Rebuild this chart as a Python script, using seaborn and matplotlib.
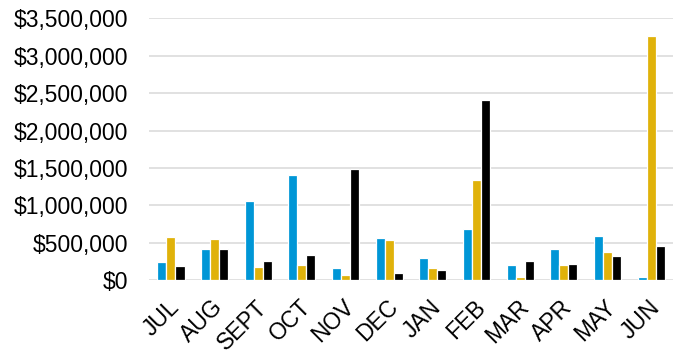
import matplotlib
matplotlib.use("Agg")
import matplotlib.pyplot as plt
import matplotlib.transforms as mtransforms
from matplotlib.ticker import FuncFormatter, MultipleLocator
import pandas as pd
import seaborn as sns

months = ["JUL", "AUG", "SEPT", "OCT", "NOV", "DEC",
          "JAN", "FEB", "MAR", "APR", "MAY", "JUN"]
series_names = ["Series A", "Series B", "Series C"]
series_a = [240000, 422000, 1060000, 1408000, 160000, 565000,
            302000, 690000, 205000, 418000, 596000, 40000]
series_b = [579000, 552000, 182000, 200000, 67000, 543000,
            168000, 1341000, 44000, 205000, 378000, 3270000]
series_c = [191000, 422000, 254000, 338000, 1492000, 98000,
            142000, 2406000, 254000, 222000, 325000, 459000]
colors = ["#0096D6", "#E0B20A", "#000000"]

df = pd.DataFrame({
    "month": months * 3,
    "series": [series_names[0]] * 12 + [series_names[1]] * 12 + [series_names[2]] * 12,
    "value": series_a + series_b + series_c,
})

sns.set_theme(style="white")
plt.rcParams["font.family"] = ["Liberation Sans", "DejaVu Sans"]

fig = plt.figure(figsize=(6.78, 3.5), dpi=100)
ax = fig.add_axes([0.2198, 0.199, 0.9926 - 0.2198, 0.9477 - 0.199])

sns.barplot(data=df, x="month", y="value", hue="series", order=months,
            hue_order=series_names, palette=colors, saturation=1, width=0.625,
            edgecolor="white", linewidth=0.9, legend=False, ax=ax)

ax.set_ylim(0, 3500000)
ax.set_xlim(-0.5, len(months) - 0.5)
ax.yaxis.set_major_locator(MultipleLocator(500000))
ax.yaxis.set_major_formatter(FuncFormatter(lambda v, p: f"${v:,.0f}"))
ax.grid(axis="y", color="#D9D9D9", linewidth=1.1)
ax.set_axisbelow(True)
for s in ax.spines.values():
    s.set_visible(False)
ax.set_xlabel("")
ax.set_ylabel("")
ax.tick_params(axis="y", length=0, pad=15, labelsize=16.5, labelcolor="black")
ax.tick_params(axis="x", length=0, pad=11, labelsize=16.5, labelcolor="black")

offset = mtransforms.ScaledTranslation(-3 / 100, 0, fig.dpi_scale_trans)
for lbl in ax.get_xticklabels():
    lbl.set_rotation(45)
    lbl.set_ha("right")
    lbl.set_va("top")
    lbl.set_rotation_mode("anchor")
    lbl.set_transform(lbl.get_transform() + offset)

fig.savefig("out.png", dpi=100)
